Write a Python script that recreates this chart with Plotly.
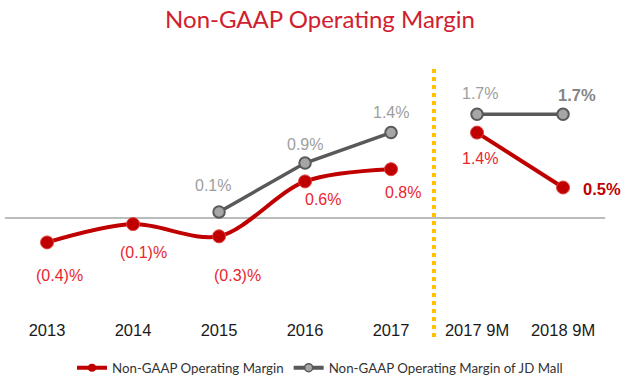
import plotly.graph_objects as go

categories = ["2013", "2014", "2015", "2016", "2017", "2017 9M", "2018 9M"]
margin_annual = [-0.4, -0.1, -0.3, 0.6, 0.8]
margin_9m = [1.4, 0.5]
mall_annual = [0.1, 0.9, 1.4]
mall_9m = [1.7, 1.7]
series_names = ["Non-GAAP Operating Margin", "Non-GAAP Operating Margin of JD Mall"]

RED = "#C00000"
RED_LABEL = "#E8262E"
GRAY_LINE = "#595959"
GRAY_FILL = "#A6A6A6"
GRAY_LABEL = "#9E9E9E"

def fmt(v):
    return f"({abs(v):.1f})%" if v < 0 else f"{v:.1f}%"

fig = go.Figure()

xa = list(range(5))
x9 = [5, 6]
xm = [2, 3, 4]

red_line = dict(color=RED, width=4, shape="spline", smoothing=0.9)
red_marker = dict(color=RED, size=13, line=dict(color="#E04040", width=1))
gray_line = dict(color=GRAY_LINE, width=3.5)
gray_marker = dict(color=GRAY_FILL, size=11.5, line=dict(color=GRAY_LINE, width=2))

for xs, ys in [(xa, margin_annual), (x9, margin_9m)]:
    fig.add_trace(go.Scatter(x=xs, y=ys, mode="lines+markers", line=red_line,
                             marker=red_marker, showlegend=False, hoverinfo="skip"))
for xs, ys in [(xm, mall_annual), (x9, mall_9m)]:
    fig.add_trace(go.Scatter(x=xs, y=ys, mode="lines+markers", line=gray_line,
                             marker=gray_marker, showlegend=False, hoverinfo="skip"))

# legend-only entries
fig.add_trace(go.Scatter(x=[None], y=[None], mode="lines+markers", name=series_names[0],
                         line=dict(color=RED, width=4),
                         marker=dict(color=RED, size=8)))
fig.add_trace(go.Scatter(x=[None], y=[None], mode="lines+markers", name=series_names[1],
                         line=dict(color=GRAY_LINE, width=4),
                         marker=dict(color=GRAY_FILL, size=8, line=dict(color=GRAY_LINE, width=1.5))))

lab_font = dict(family="Liberation Sans, Arial", size=16)

red_offsets = [(12, -33), (10, -28), (18, -39), (18, -18), (12, -23)]
for x, v, (dx, dy) in zip(xa, margin_annual, red_offsets):
    fig.add_annotation(x=x, y=v, text=fmt(v), showarrow=False, xshift=dx, yshift=dy,
                       font=dict(color=RED_LABEL, **lab_font))
fig.add_annotation(x=x9[0], y=margin_9m[0], text=fmt(margin_9m[0]), showarrow=False,
                   xshift=3, yshift=-26, font=dict(color=RED_LABEL, **lab_font))
fig.add_annotation(x=x9[1], y=margin_9m[1], text="<b>" + fmt(margin_9m[1]) + "</b>",
                   showarrow=False, xshift=39, yshift=-1,
                   font=dict(color=RED, family="Liberation Sans, Arial", size=16.5))

gray_offsets = [(-6, 26), (0, 19), (0, 20)]
for x, v, (dx, dy) in zip(xm, mall_annual, gray_offsets):
    fig.add_annotation(x=x, y=v, text=fmt(v), showarrow=False, xshift=dx, yshift=dy,
                       font=dict(color=GRAY_LABEL, **lab_font))
fig.add_annotation(x=x9[0], y=mall_9m[0], text=fmt(mall_9m[0]), showarrow=False,
                   xshift=3, yshift=21, font=dict(color=GRAY_LABEL, **lab_font))
fig.add_annotation(x=x9[1], y=mall_9m[1], text="<b>" + fmt(mall_9m[1]) + "</b>",
                   showarrow=False, xshift=14, yshift=19,
                   font=dict(color="#858585", family="Liberation Sans, Arial", size=16.5))

fig.add_shape(type="line", xref="x", yref="y", x0=-0.49, x1=6.49, y0=0, y1=0,
              line=dict(color="#A6A6A6", width=1.5), layer="below")
fig.add_shape(type="line", xref="x", yref="paper", x0=4.5, x1=4.5, y0=-0.0736, y1=0.98,
              line=dict(color="#FFC000", width=4, dash="4px,4px"))

fig.update_layout(
    width=640, height=384,
    margin=dict(l=0, r=0, t=60, b=66),
    paper_bgcolor="white", plot_bgcolor="white",
    title=dict(text="Non-GAAP Operating Margin", x=0.5, xanchor="center", y=0.948,
               yanchor="middle",
               font=dict(family="Lato, Carlito, sans-serif", size=24, color="#D0202E")),
    xaxis=dict(range=[-0.547, 6.895], tickmode="array", tickvals=list(range(7)),
               ticktext=categories, showgrid=False, zeroline=False, showline=False,
               ticks="", tickfont=dict(family="Liberation Sans, Arial", size=16.5, color="#1a1a1a"),
               fixedrange=True),
    yaxis=dict(range=[-1.639, 2.590], visible=False, fixedrange=True),
    legend=dict(orientation="h", x=0.5, xanchor="center", y=-0.194, yanchor="middle",
                font=dict(family="Lato, Carlito, sans-serif", size=13.3, color="#333333"),
                itemwidth=30, tracegroupgap=0),
    showlegend=True,
    hovermode=False,
)

fig.write_html("out.html", config={"displayModeBar": False, "staticPlot": True},
               post_script="document.body.style.margin='0';document.body.style.padding='0';")
